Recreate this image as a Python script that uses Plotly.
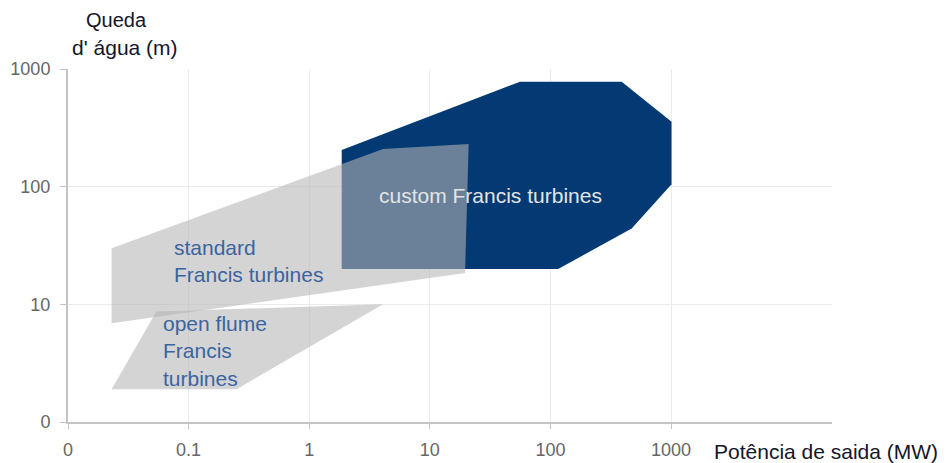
import plotly.graph_objects as go

# Regions (power in MW, head in m)
custom_x = [1.86, 56, 390, 1010, 1010, 472, 116, 1.86]
custom_y = [205, 780, 780, 357, 105, 44, 20, 20]

standard_x = [0.023, 4.1, 21, 19.6, 0.023]
standard_y = [30, 209, 230, 18.5, 6.9]

flume_x = [0.054, 4.1, 0.25, 0.023]
flume_y = [8.7, 10, 1.9, 1.9]

x_tickvals = [0.01, 0.1, 1, 10, 100, 1000]
x_ticktext = ["0", "0.1", "1", "10", "100", "1000"]
y_tickvals = [1, 10, 100, 1000]
y_ticktext = ["0", "10", "100", "1000"]

FONT = "Liberation Sans, Arial, sans-serif"
grey_fill = "rgba(181,181,181,0.58)"

fig = go.Figure()
fig.add_trace(go.Scatter(x=custom_x, y=custom_y, fill="toself", mode="lines",
                         line=dict(width=0), fillcolor="#033a73", hoverinfo="skip"))
fig.add_trace(go.Scatter(x=standard_x, y=standard_y, fill="toself", mode="lines",
                         line=dict(width=0), fillcolor=grey_fill, hoverinfo="skip"))
fig.add_trace(go.Scatter(x=flume_x, y=flume_y, fill="toself", mode="lines",
                         line=dict(width=0), fillcolor=grey_fill, hoverinfo="skip"))

L, R, T, B = 68, 116, 69, 41
W, H = 948, 463
pw = W - L - R
ph = H - T - B

def px(x):
    return (x - L) / pw

def py(y):
    return (H - B - y) / ph

ann = []
ann.append(dict(text="custom Francis turbines", x=490, y=195, font=dict(size=21, color="#e4e4e4")))
ann.append(dict(text="standard<br>Francis turbines", x=172, y=261, xanchor="left", align="left",
                font=dict(size=21, color="#3b64a0")))
ann.append(dict(text="open flume<br>Francis<br>turbines", x=161, y=351, xanchor="left", align="left",
                font=dict(size=21, color="#3b64a0")))
ann.append(dict(text="Queda", x=116, y=20, font=dict(size=20, color="#15152a")))
ann.append(dict(text="d' água (m)", x=125, y=47, font=dict(size=21, color="#15152a")))
ann.append(dict(text="Potência de saida (MW)", x=712, y=451, xanchor="left",
                font=dict(size=21, color="#15152a")))

annotations = []
for a in ann:
    d = dict(xref="paper", yref="paper", showarrow=False, xanchor=a.get("xanchor", "center"),
             yanchor="middle", align=a.get("align", "center"), text=a["text"],
             x=px(a["x"]), y=py(a["y"]), font=dict(family=FONT, **a["font"]))
    annotations.append(d)

fig.update_layout(
    width=W, height=H,
    margin=dict(l=L, r=R, t=T, b=B, autoexpand=False),
    paper_bgcolor="white", plot_bgcolor="white",
    showlegend=False,
    font=dict(family=FONT),
    annotations=annotations,
    xaxis=dict(type="log", range=[-2, -2 + pw / 120.6], tickvals=x_tickvals, ticktext=x_ticktext,
               showgrid=True, gridcolor="#ebebeb", gridwidth=1, zeroline=False,
               showline=True, linecolor="#c4c4c4", linewidth=2, automargin=False,
               ticks="outside", ticklen=5, tickcolor="#c4c4c4", tickwidth=1,
               tickfont=dict(size=18, color="#666666"), ticklabelstandoff=5, fixedrange=True),
    yaxis=dict(type="log", range=[0, 3], tickvals=y_tickvals, ticktext=y_ticktext,
               showgrid=True, gridcolor="#ebebeb", gridwidth=1, zeroline=False,
               showline=True, linecolor="#c4c4c4", linewidth=2, automargin=False,
               ticks="outside", ticklen=6, tickcolor="#c4c4c4", tickwidth=1,
               tickfont=dict(size=18, color="#666666"), ticklabelstandoff=6, fixedrange=True),
)

fig.write_html("out.html", config={"displayModeBar": False})
